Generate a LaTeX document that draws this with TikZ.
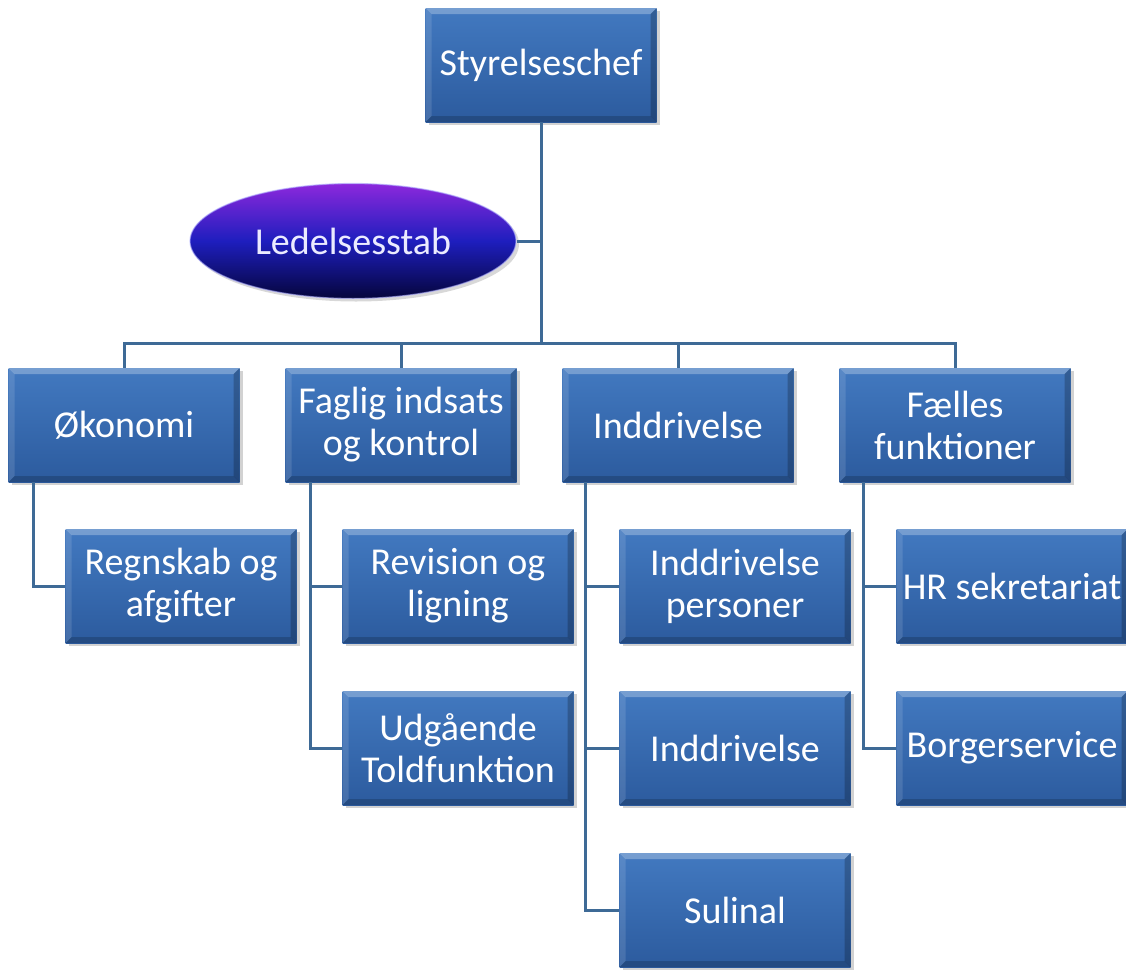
\documentclass[tikz,border=0pt]{standalone}
\usepackage{fontspec}
\setmainfont{Carlito}
\usetikzlibrary{shapes.geometric,shadows,calc}
\definecolor{boxtop}{RGB}{66,121,192}
\definecolor{boxbot}{RGB}{44,91,158}
\definecolor{conn}{RGB}{62,106,150}
\definecolor{elltop}{RGB}{140,40,220}
\definecolor{ellmid}{RGB}{30,30,190}
\definecolor{ellbot}{RGB}{5,5,60}
\tikzset{
  orgbox/.style={rectangle, minimum width=231pt, minimum height=114pt, inner sep=2pt,
    top color=boxtop, bottom color=boxbot, text=white, align=center,
    font=\fontsize{38}{42}\selectfont,
    drop shadow={shadow xshift=3pt, shadow yshift=-3pt, opacity=0.35},
    path picture={
      \fill[white,opacity=0.28] (path picture bounding box.north west) -- (path picture bounding box.north east)
        -- ([xshift=-6pt,yshift=-6pt]path picture bounding box.north east) -- ([xshift=6pt,yshift=-6pt]path picture bounding box.north west) -- cycle;
      \fill[white,opacity=0.12] (path picture bounding box.north west) -- ([xshift=6pt,yshift=-6pt]path picture bounding box.north west)
        -- ([xshift=6pt,yshift=6pt]path picture bounding box.south west) -- (path picture bounding box.south west) -- cycle;
      \fill[black,opacity=0.22] (path picture bounding box.north east) -- ([xshift=-6pt,yshift=-6pt]path picture bounding box.north east)
        -- ([xshift=-6pt,yshift=6pt]path picture bounding box.south east) -- (path picture bounding box.south east) -- cycle;
      \fill[black,opacity=0.18] (path picture bounding box.south west) -- ([xshift=6pt,yshift=6pt]path picture bounding box.south west)
        -- ([xshift=-6pt,yshift=6pt]path picture bounding box.south east) -- (path picture bounding box.south east) -- cycle;
    }},
  ellbox/.style={ellipse, minimum width=326pt, minimum height=115pt, inner sep=0pt,
    top color=elltop, bottom color=ellbot, middle color=ellmid, text=white!92!blue,
    draw=white!70!blue, draw opacity=0.6, line width=1.2pt,
    font=\fontsize{38}{42}\selectfont,
    drop shadow={shadow xshift=3pt, shadow yshift=-3pt, opacity=0.3}},
  link/.style={draw=conn, line width=3pt}
}
\begin{document}
\begin{tikzpicture}[x=1pt,y=-1pt]
\useasboundingbox (0,0) rectangle (1126,969);
\clip (0,0) rectangle (1126,969);
\fill[white] (0,0) rectangle (1126,969);
% connectors first (behind boxes)
\coordinate (j) at (541,343);
\coordinate (je) at (541,241);
\coordinate (stytop) at (541,122);
\coordinate (stymid) at (541,65);
% nodes
\node[orgbox] (sty) at (541,65) {Styrelseschef};
\node[ellbox] (led) at (353,241) {Ledelsesstab};
\node[orgbox] (oko) at (124,425) {Økonomi};
\node[orgbox] (fag) at (401,425) {Faglig indsats\\og kontrol};
\node[orgbox] (ind) at (678,425) {Inddrivelse};
\node[orgbox] (fae) at (955,425) {Fælles\\funktioner};
\node[orgbox] (reg) at (181,586) {Regnskab og\\afgifter};
\node[orgbox] (rev) at (458,586) {Revision og\\ligning};
\node[orgbox] (udg) at (458,748) {Udgående\\Toldfunktion};
\node[orgbox] (ip) at (735,586) {Inddrivelse\\personer};
\node[orgbox] (i2) at (735,748) {Inddrivelse};
\node[orgbox] (sul) at (735,910) {Sulinal};
\node[orgbox] (hr) at (1012,586) {HR sekretariat};
\node[orgbox] (bor) at (1012,748) {Borgerservice};
% links
\begin{scope}[on background layer/.style={}]
\draw[link] (sty.south) -- (j);
\draw[link] (led.east) -- (je);
\draw[link] (j) -| (oko.north);
\draw[link] (j) -| (fag.north);
\draw[link] (j) -| (ind.north);
\draw[link] (j) -| (fae.north);
\draw[link] ([xshift=25pt]oko.south west) |- (reg.west);
\draw[link] ([xshift=25pt]fag.south west) |- (rev.west);
\draw[link] ([xshift=25pt]fag.south west) |- (udg.west);
\draw[link] ([xshift=23pt]ind.south west) |- (ip.west);
\draw[link] ([xshift=23pt]ind.south west) |- (i2.west);
\draw[link] ([xshift=23pt]ind.south west) |- (sul.west);
\draw[link] ([xshift=24pt]fae.south west) |- (hr.west);
\draw[link] ([xshift=24pt]fae.south west) |- (bor.west);
\end{scope}
\end{tikzpicture}
\end{document}
